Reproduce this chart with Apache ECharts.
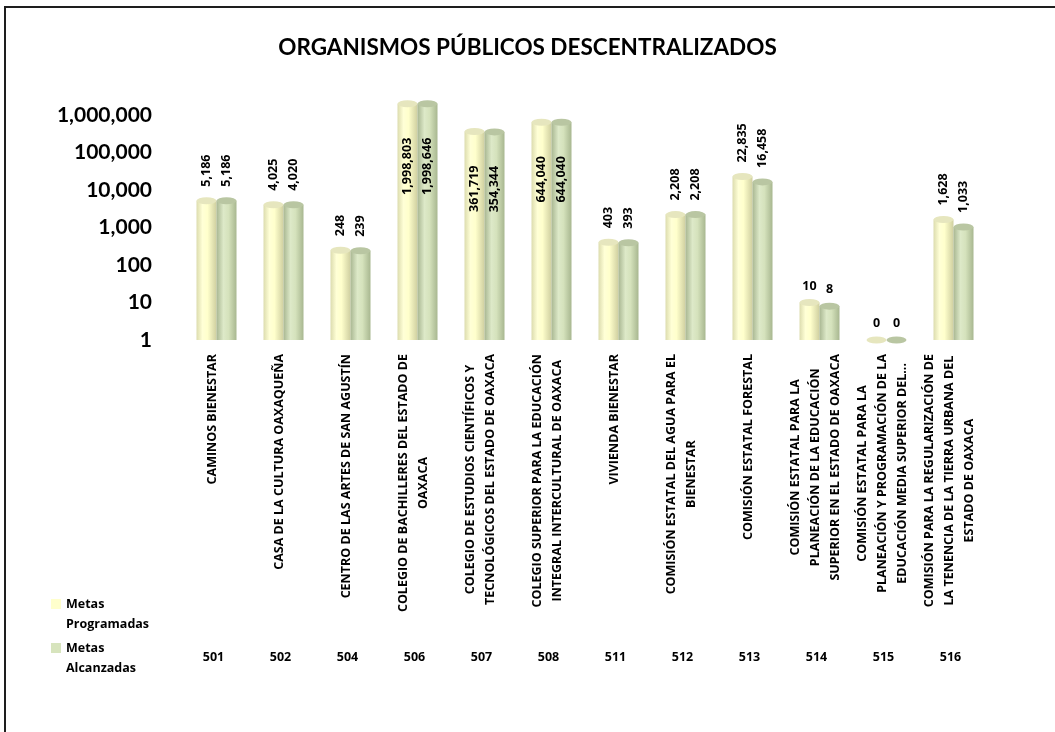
<!DOCTYPE html>
<html><head><meta charset="utf-8">
<script src="https://cdn.jsdelivr.net/npm/echarts@6/dist/echarts.min.js"></script>
<style>html,body{margin:0;padding:0;background:#fff}#c{width:1055px;height:732px}</style>
</head><body><div id="c"></div>
<script>
const chartTitle = 'ORGANISMOS PÚBLICOS DESCENTRALIZADOS';
const codes = ['501','502','504','506','507','508','511','512','513','514','515','516'];
const names = [
  'CAMINOS BIENESTAR',
  'CASA DE LA CULTURA OAXAQUEÑA',
  'CENTRO DE LAS ARTES DE SAN AGUSTÍN',
  'COLEGIO DE BACHILLERES DEL ESTADO DE\nOAXACA',
  'COLEGIO DE ESTUDIOS CIENTÍFICOS Y\nTECNOLÓGICOS DEL ESTADO DE OAXACA',
  'COLEGIO SUPERIOR PARA LA EDUCACIÓN\nINTEGRAL INTERCULTURAL DE OAXACA',
  'VIVIENDA BIENESTAR',
  'COMISIÓN ESTATAL DEL AGUA PARA EL\nBIENESTAR',
  'COMISIÓN ESTATAL FORESTAL',
  'COMISIÓN ESTATAL PARA LA\nPLANEACIÓN DE LA EDUCACIÓN\nSUPERIOR EN EL ESTADO DE OAXACA',
  'COMISIÓN ESTATAL PARA LA\nPLANEACIÓN Y PROGRAMACIÓN DE LA\nEDUCACIÓN MEDIA SUPERIOR DEL...',
  'COMISIÓN PARA LA REGULARIZACIÓN DE\nLA TENENCIA DE LA TIERRA URBANA DEL\nESTADO DE OAXACA'
];
const metasProgramadas = [5186, 4025, 248, 1998803, 361719, 644040, 403, 2208, 22835, 10, 0, 1628];
const metasAlcanzadas  = [5186, 4020, 239, 1998646, 354344, 644040, 393, 2208, 16458, 8, 0, 1033];
const seriesNames = ['Metas Programadas', 'Metas Alcanzadas'];
const legendLabels = ['\nMetas\nProgramadas', '\nMetas\nAlcanzadas'];

const FONT = 'Lato';
const SMALL = 'Open Sans';
const SMALL_SIZE = 12.5;
const BW = 20;

function fmt(v){ return v.toLocaleString('en-US'); }
// a log axis cannot place 0, so zero values are drawn at the axis base (1)
function plotVal(v){ return v > 0 ? v : 1; }

function labelFor(v){
  const base = {show:true, color:'#000', fontFamily:SMALL, fontWeight:'bold', fontSize:SMALL_SIZE,
                formatter: p => fmt(p.data.raw)};
  if (v >= 100000) return Object.assign(base, {position:'insideTop', distance:34, rotate:90, align:'right', verticalAlign:'middle'});
  if (v >= 100) return Object.assign(base, {position:'top', distance:14, rotate:90, align:'left', verticalAlign:'middle'});
  return Object.assign(base, {position:'top', distance:10, rotate:0});
}
function barItems(raw){ return raw.map(v => ({value: plotVal(v), raw: v, label: labelFor(v)})); }
function capItems(raw){ return raw.map(v => plotVal(v)); }

const bodyColors = [
  new echarts.graphic.LinearGradient(0,0,1,0,[
    {offset:0, color:'#DCDCAE'},{offset:0.3, color:'#FFFFD6'},{offset:0.55, color:'#FFFFCC'},{offset:1, color:'#CFCFA0'}]),
  new echarts.graphic.LinearGradient(0,0,1,0,[
    {offset:0, color:'#A9B792'},{offset:0.35, color:'#DDE9C8'},{offset:0.6, color:'#D5E2BC'},{offset:1, color:'#A8B790'}])
];
const capColors = ['#E6E6BE', '#B9C6A2'];
const legendColors = ['#FFFFCC', '#D7E4BD'];

const series = [];
[metasProgramadas, metasAlcanzadas].forEach((raw, i) => {
  series.push({
    name: seriesNames[i], type:'bar', barWidth:BW, barGap:'0%', z:2,
    itemStyle:{color: bodyColors[i]},
    data: barItems(raw)
  });
});
[metasProgramadas, metasAlcanzadas].forEach((raw, i) => {
  series.push({
    name: seriesNames[i] + ' top', type:'pictorialBar', barWidth:BW, barGap:'0%', z:3,
    symbol:'circle', symbolSize:[BW, 7], symbolPosition:'end', symbolOffset:[0,'-50%'],
    itemStyle:{color: capColors[i]}, silent:true, legendHoverLink:false,
    data: capItems(raw)
  });
});

const legendTops = [574, 618];
const legends = seriesNames.map((n, i) => ({
  show:true, orient:'vertical', left:51, top:legendTops[i], padding:0,
  icon:'rect', itemWidth:10, itemHeight:10, itemGap:0,
  data:[{name:n, itemStyle:{color:legendColors[i]}}],
  formatter: () => legendLabels[i],
  textStyle:{color:'#000', fontFamily:SMALL, fontWeight:'bold', fontSize:SMALL_SIZE, lineHeight:20},
  selectedMode:false
}));

const chart = echarts.init(document.getElementById('c'), null, {renderer:'canvas'});
chart.setOption({
  backgroundColor:'#fff',
  animation:false,
  title:{text: chartTitle, left:'center', top:31,
    textStyle:{fontFamily:FONT, fontWeight:'bold', fontSize:22.5, color:'#000'}},
  legend: legends,
  grid:{left:183, right:68, top:77.5, bottom:392, containLabel:false},
  xAxis:[{
    type:'category', data:names, position:'bottom',
    axisLine:{show:false}, axisTick:{show:false},
    axisLabel:{interval:0, rotate:90, margin:14, color:'#000', padding:[0,0,9,0],
      formatter: v => v.split('\n').map(l => '{c|' + l + '}').join('\n'),
      rich:{c:{align:'center', fontFamily:SMALL, fontWeight:'bold', fontSize:SMALL_SIZE, lineHeight:20, color:'#000'}}}
  },{
    type:'category', data:codes, position:'bottom', offset:311,
    axisLine:{show:false}, axisTick:{show:false},
    axisLabel:{interval:0, margin:0, color:'#000', fontFamily:SMALL, fontWeight:'bold', fontSize:SMALL_SIZE, padding:[0,6,0,0]}
  }],
  yAxis:{
    type:'log', logBase:10, min:1, max:10000000,
    axisLine:{show:false}, axisTick:{show:false}, splitLine:{show:false},
    axisLabel:{showMaxLabel:false, margin:31, color:'#000', fontFamily:FONT, fontWeight:'bold', fontSize:21,
      formatter: v => fmt(v)}
  },
  series: series,
  graphic:[{type:'rect', shape:{x:5, y:7, width:2000, height:2000},
    style:{fill:'none', stroke:'#1e1e1e', lineWidth:2}, silent:true, z:100}]
});
</script>
</body></html>
